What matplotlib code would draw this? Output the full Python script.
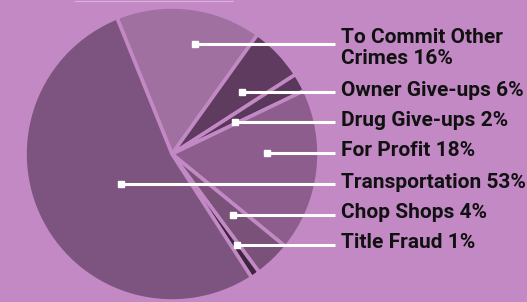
import matplotlib.pyplot as plt
import numpy as np

# slices in drawing order (clockwise from the top)
slice_names = ["To Commit Other\nCrimes", "Owner Give-ups", "Drug Give-ups",
               "For Profit", "Chop Shops", "Title Fraud", "Transportation"]
slice_values = [16, 6, 2, 18, 4, 1, 53]
slice_colors = ["#a070a1", "#5e3b5f", "#5a385b", "#8d5d8e",
                "#7a5179", "#3e2441", "#7d5480"]

# legend order on the right, top to bottom
label_order = ["To Commit Other\nCrimes", "Owner Give-ups", "Drug Give-ups",
               "For Profit", "Transportation", "Chop Shops", "Title Fraud"]
label_y = [258, 210, 180, 149, 118, 87, 57]
dot_radius = [0.765, 0.636, 0.48, 0.646, 0.40, 0.587, 0.76]

bg = "#c389c5"
W, H = 527, 302
cx, cy, R = 172, 148, 147

fig = plt.figure(figsize=(W / 100, H / 100), dpi=100, facecolor=bg)
ax = fig.add_axes([0, 0, 1, 1])
ax.set_facecolor(bg)

wedges, _ = ax.pie(slice_values, colors=slice_colors, startangle=112,
                   counterclock=False, radius=R, center=(cx, cy),
                   wedgeprops=dict(edgecolor=bg, linewidth=2.6))
ax.set_xlim(0, W)
ax.set_ylim(0, H)
ax.set_aspect("equal")
ax.axis("off")

for name, ly, rf in zip(label_order, label_y, dot_radius):
    i = slice_names.index(name)
    w = wedges[i]
    mid = np.deg2rad((w.theta1 + w.theta2) / 2)
    dy = ly - cy
    dx = np.sqrt(max((rf * R) ** 2 - dy ** 2, 0))
    side = 1 if np.cos(mid) >= 0 else -1
    x0 = cx + side * dx
    ax.plot([x0, 335], [ly, ly], color="white", lw=2.2, solid_capstyle="butt", zorder=3)
    ax.plot(x0, ly, marker="s", ms=4.3, color="white", zorder=4)
    pct = slice_values[i]
    two_lines = "\n" in name
    ax.text(341, ly - 4 if two_lines else ly + 2, f"{name} {pct}%", fontsize=15,
            family="Roboto", fontweight="bold", color="#111111", va="center",
            ha="left", linespacing=1.12)

# thin underline of the cropped heading
ax.plot([75, 233], [H - 1, H - 1], color="#dcb0dc", lw=0.8)

fig.savefig("out.png", dpi=100, facecolor=bg)
